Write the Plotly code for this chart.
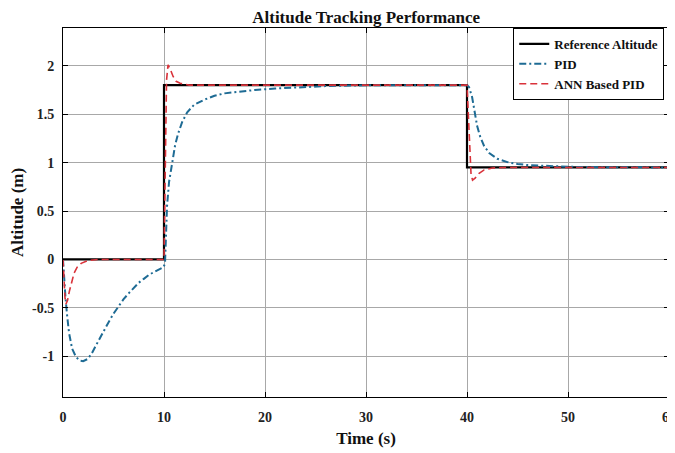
import plotly.graph_objects as go

# Reference altitude (step commands)
ref_t = [0, 10, 10, 40, 40, 60]
ref_y = [0, 0, 1.8, 1.8, 0.95, 0.95]

# Conventional PID response
pid_t = [0, 0.1, 0.25, 0.4, 0.6, 0.9, 1.3, 1.7, 2.0, 2.4, 2.8, 3.2, 3.6, 4.0, 4.5, 5.0,
         5.5, 6.0, 6.5, 7.0, 7.5, 8.0, 8.5, 9.0, 9.5, 9.95, 10.1, 10.2, 10.3, 10.5,
         10.8, 11.1, 11.4, 11.8, 12.3, 13.0, 14.0, 15.0, 16.0, 17.5, 19.0, 21.0,
         23.5, 26.0, 29.0, 32.0, 40.0, 40.2, 40.5, 40.8, 41.0, 41.3, 41.7, 42.2,
         43.0, 44.0, 45.0, 46.0, 48.0, 50.0, 53.0, 56.0, 60.0]
pid_y = [0, -0.2, -0.4, -0.57, -0.76, -0.92, -1.01, -1.045, -1.05, -1.03, -0.98, -0.9,
         -0.82, -0.74, -0.65, -0.56, -0.48, -0.41, -0.35, -0.29, -0.24, -0.2, -0.16, -0.13,
         -0.1, -0.08, -0.04, 0.2, 0.55, 0.8, 1.0, 1.18, 1.3, 1.42, 1.52, 1.6, 1.65,
         1.69, 1.715, 1.735, 1.75, 1.765, 1.78, 1.79, 1.797, 1.8, 1.8, 1.78, 1.68,
         1.5, 1.38, 1.27, 1.17, 1.1, 1.04, 1.005, 0.985, 0.975, 0.963, 0.957, 0.953,
         0.95, 0.95]

# ANN-based PID response
ann_t = [0, 0.1, 0.2, 0.3, 0.45, 0.65, 0.85, 1.1, 1.4, 1.8, 2.5, 3.5, 10.0, 10.05,
         10.15, 10.25, 10.4, 10.6, 10.9, 11.2, 11.6, 12.5, 40.0, 40.1, 40.25, 40.4,
         40.55, 40.8, 41.2, 41.7, 42.5, 44.0, 60.0]
ann_y = [0, -0.25, -0.4, -0.46, -0.42, -0.32, -0.24, -0.14, -0.08, -0.04, -0.01, 0,
         0, 0.3, 1.2, 1.85, 2.01, 1.97, 1.89, 1.84, 1.82, 1.8, 1.8, 1.6, 1.2, 0.88,
         0.82, 0.84, 0.89, 0.925, 0.945, 0.95, 0.95]

x_ticks = [0, 10, 20, 30, 40, 50, 60]
x_tick_labels = ["0", "10", "20", "30", "40", "50", "60"]
y_ticks = [-1, -0.5, 0, 0.5, 1, 1.5, 2]
y_tick_labels = ["-1", "-0.5", "0", "0.5", "1", "1.5", "2"]

FONT = "Liberation Serif"

fig = go.Figure()
fig.add_trace(go.Scatter(x=ref_t, y=ref_y, mode="lines", name="Reference Altitude",
                         line=dict(color="black", width=2.2)))
fig.add_trace(go.Scatter(x=pid_t, y=pid_y, mode="lines", name="PID",
                         line=dict(color="#1e6b94", width=2, dash="7px,3px,2px,3px")))
fig.add_trace(go.Scatter(x=ann_t, y=ann_y, mode="lines", name="ANN Based PID",
                         line=dict(color="#d9323a", width=1.6, dash="7px,4px")))

axis_common = dict(
    showline=True, linecolor="black", linewidth=1, mirror="ticks",
    ticks="inside", ticklen=5, tickcolor="black", automargin=False,
    ticklabeloverflow="allow",
    showgrid=True, gridcolor="#a8a8a8", gridwidth=1, zeroline=False,
    tickfont=dict(family=FONT, size=14, color="#222", weight="bold"),
)

fig.update_xaxes(range=[0, 60], tickvals=x_ticks, ticktext=x_tick_labels,
                 ticklabelstandoff=7,
                 title=dict(text="Time (s)", font=dict(family=FONT, size=17, color="#111", weight="bold"), standoff=8),
                 **axis_common)
fig.update_yaxes(range=[-1.42, 2.39], tickvals=y_ticks, ticktext=y_tick_labels,
                 ticklabelstandoff=5,
                 title=dict(text="Altitude (m)", font=dict(family=FONT, size=17, color="#111", weight="bold"), standoff=5),
                 **axis_common)

# The page body has an 8px margin, so the figure is sized to end at the window edge.
fig.update_layout(
    width=667, height=445,
    margin=dict(l=55, r=6, t=20, b=56, autoexpand=False),
    paper_bgcolor="white", plot_bgcolor="white",
    title=dict(text="Altitude Tracking Performance", x=0.537, xanchor="center",
               y=1, yref="container", yanchor="top", pad=dict(t=3),
               font=dict(family=FONT, size=17, color="#111", weight="bold")),
    legend=dict(x=0.743, y=1, xanchor="left", yanchor="top", bgcolor="white",
                bordercolor="black", borderwidth=1, tracegroupgap=0,
                font=dict(family=FONT, size=13, color="#111", weight="bold")),
    showlegend=True,
)

fig.write_html("out.html")
